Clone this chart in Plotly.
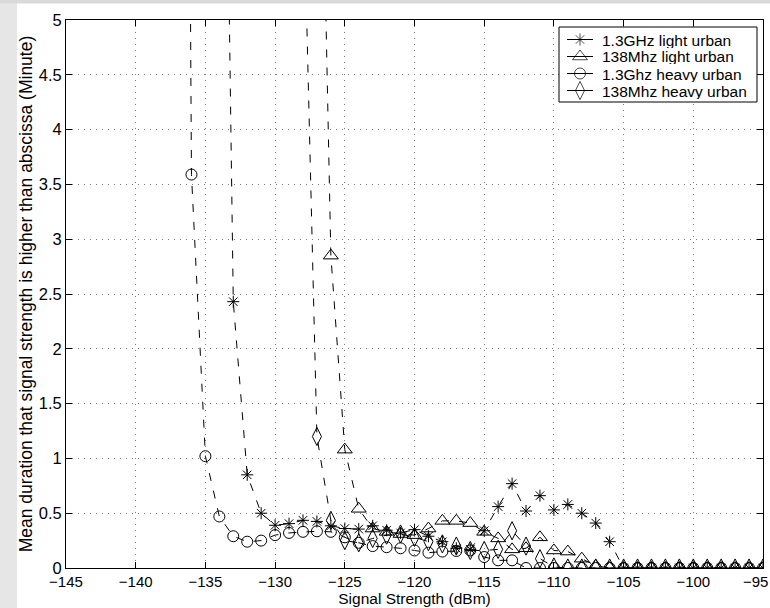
import plotly.graph_objects as go

# Signal strength axis values (dBm)
signal_dbm = [-137, -136, -135, -134, -133, -132, -131, -130, -129, -128,
              -127, -126, -125, -124, -123, -122, -121, -120, -119, -118,
              -117, -116, -115, -114, -113, -112, -111, -110, -109, -108,
              -107, -106, -105, -104, -103, -102, -101, -100, -99, -98,
              -97, -96, -95]

# Mean duration (minutes)
ghz13_light = [None, None, None, 11.6, 2.43, 0.85, 0.50, 0.39, 0.405, 0.435,
               0.425, 0.385, 0.36, 0.355, 0.385, 0.345, 0.32, 0.35, 0.29, 0.24,
               0.18, 0.17, 0.34, 0.56, 0.77, 0.52, 0.66, 0.53, 0.58, 0.50,
               0.41, 0.24, 0, 0, 0, 0, 0, 0, 0, 0,
               0, 0, 0]
mhz138_light = [None, None, None, None, None, None, None, None, None, None,
                9.0, 2.85, 1.08, 0.54, 0.36, 0.33, 0.31, 0.30, 0.36, 0.43,
                0.43, 0.41, 0.33, 0.27, 0.17, 0.18, 0.28, 0.16, 0.15, 0.085,
                0.02, 0, 0, 0, 0, 0, 0, 0, 0, 0,
                0, 0, 0]
ghz13_heavy = [25.0, 3.59, 1.02, 0.47, 0.29, 0.24, 0.25, 0.30, 0.32, 0.33,
               0.335, 0.33, 0.28, 0.23, 0.20, 0.19, 0.18, 0.16, 0.14, 0.15,
               0.155, 0.16, 0.10, 0.07, 0.07, 0, 0, 0, 0, 0,
               0, 0, 0, 0, 0, 0, 0, 0, 0, 0,
               0, 0, 0]
mhz138_heavy = [None, None, None, None, None, None, None, None, None, 6.4,
                1.2, 0.435, 0.25, 0.23, 0.27, 0.30, 0.31, 0.28, 0.24, 0.22,
                0.20, 0.16, 0.16, 0.17, 0.34, 0.20, 0.085, 0.01, 0, 0,
                0, 0, 0, 0, 0, 0, 0, 0, 0, 0,
                0, 0, 0]

series_names = ["1.3GHz light urban", "138Mhz light urban",
                "1.3Ghz heavy urban", "138Mhz heavy urban"]
series_values = [ghz13_light, mhz138_light, ghz13_heavy, mhz138_heavy]
symbols = ["asterisk-open", "triangle-up-open", "circle-open", "diamond-tall-open"]
sizes = [10, 13, 11, 13]

x_ticks = [-145, -140, -135, -130, -125, -120, -115, -110, -105, -100, -95]
x_tick_text = ["\u2212145", "\u2212140", "\u2212135", "\u2212130", "\u2212125",
               "\u2212120", "\u2212115", "\u2212110", "\u2212105", "\u2212100", "\u221295"]
y_ticks = [0, 0.5, 1, 1.5, 2, 2.5, 3, 3.5, 4, 4.5, 5]
y_tick_text = ["0", "0.5", "1", "1.5", "2", "2.5", "3", "3.5", "4", "4.5", "5"]

FONT = "Liberation Sans, Arial, sans-serif"

# plot-area geometry in pixels (figure is 770 x 608)
W, H = 770, 608
ML, MR, MT, MB = 66, 7, 20, 40
PW, PH = W - ML - MR, H - MT - MB


def px_x(px):
    return (px - ML) / PW


def px_y(py):
    return (H - MB - py) / PH


fig = go.Figure()
for name, vals, sym, sz in zip(series_names, series_values, symbols, sizes):
    fig.add_trace(go.Scatter(
        x=signal_dbm, y=vals, name=name, mode="lines+markers",
        showlegend=False, cliponaxis=True,
        line=dict(color="black", width=1, dash="8px,10px"),
        marker=dict(symbol=sym, size=sz, color="black",
                    line=dict(color="black", width=1)),
    ))

# ---- MATLAB-style legend drawn on an overlay (paper-like) axis ----
LEG_L, LEG_R, LEG_T, LEG_B = 559, 757, 27, 102
fig.add_trace(go.Scatter(
    x=[px_x(LEG_L), px_x(LEG_R), px_x(LEG_R), px_x(LEG_L), px_x(LEG_L)],
    y=[px_y(LEG_T), px_y(LEG_T), px_y(LEG_B), px_y(LEG_B), px_y(LEG_T)],
    xaxis="x2", yaxis="y2", mode="lines", fill="toself",
    fillcolor="white", line=dict(color="black", width=1),
    showlegend=False, hoverinfo="skip",
))
annotations = []
for i, (name, sym, sz) in enumerate(zip(series_names, symbols, sizes)):
    yc = 39.5 + 17.0 * i
    fig.add_trace(go.Scatter(
        x=[px_x(567), px_x(580), px_x(593)], y=[px_y(yc)] * 3,
        xaxis="x2", yaxis="y2", mode="lines+markers",
        line=dict(color="black", width=1),
        marker=dict(symbol=sym, size=[0, sz, 0], color="black",
                    line=dict(color="black", width=1)),
        showlegend=False, hoverinfo="skip",
    ))
    annotations.append(dict(
        x=px_x(600), y=px_y(yc), xref="paper", yref="paper",
        text=name, showarrow=False, xanchor="left", yanchor="middle",
        height=16, valign="middle",
        font=dict(family=FONT, size=15.5, color="black"),
    ))

# last x tick label placed so it stays inside the picture, as in the original
annotations.append(dict(
    x=px_x(770), y=px_y(581.5), xref="paper", yref="paper",
    text=x_tick_text[-1], showarrow=False, xanchor="right", yanchor="middle",
    font=dict(family=FONT, size=15, color="black"),
))
x_tick_labels_shown = x_tick_text[:-1] + [""]

axis_common = dict(
    showline=True, linecolor="black", linewidth=1, mirror="ticks",
    ticks="inside", ticklen=6, tickcolor="black", tickwidth=1,
    showgrid=True, gridcolor="#7a7a7a", gridwidth=1, griddash="1px,5px",
    zeroline=False,
)

fig.update_layout(
    xaxis=dict(range=[-145, -95], tickvals=x_ticks, ticktext=x_tick_labels_shown,
               tickfont=dict(family=FONT, size=15, color="black"),
               title=dict(text="Signal Strength (dBm)",
                          font=dict(family=FONT, size=15.5, color="black"),
                          standoff=3),
               **axis_common),
    yaxis=dict(range=[0, 5], tickvals=y_ticks, ticktext=y_tick_text,
               tickfont=dict(family=FONT, size=16.5, color="black"),
               title=dict(text="Mean duration that signal strength is higher than abscissa (Minute)",
                          font=dict(family=FONT, size=17.5, color="black"),
                          standoff=1),
               **axis_common),
    xaxis2=dict(overlaying="x", range=[0, 1], visible=False, fixedrange=True),
    yaxis2=dict(overlaying="y", range=[0, 1], visible=False, fixedrange=True),
    width=W, height=H,
    margin=dict(l=ML, r=MR, t=MT, b=MB, autoexpand=False),
    paper_bgcolor="white", plot_bgcolor="white",
    font=dict(family=FONT, size=15, color="black"),
    showlegend=False,
    annotations=annotations,
    shapes=[
        dict(type="rect", xref="paper", yref="paper",
             x0=px_x(0), x1=px_x(17), y0=px_y(H), y1=px_y(0),
             fillcolor="#e6e6e6", line=dict(width=0), layer="below"),
        dict(type="rect", xref="paper", yref="paper",
             x0=px_x(0), x1=px_x(W), y0=px_y(3.5), y1=px_y(0),
             fillcolor="#d9d9d9", line=dict(width=0), layer="below"),
    ],
)

fig.write_html("out.html", config={"displayModeBar": False},
               post_script="document.body.style.margin='0px';")
